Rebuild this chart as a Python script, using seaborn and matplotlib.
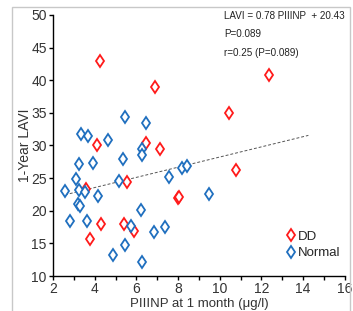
import numpy as np
import pandas as pd
import seaborn as sns
import matplotlib.pyplot as plt
from matplotlib.patches import Rectangle

# values
dd_x = [4.25, 6.9, 4.1, 6.45, 7.15, 12.35, 10.45, 3.57, 4.32, 3.77, 5.56, 5.42, 5.9, 7.98, 8.04, 10.76]
dd_y = [43.0, 39.0, 30.0, 30.4, 29.5, 40.8, 35.0, 23.3, 18.0, 15.7, 24.4, 18.0, 16.9, 21.9, 22.1, 26.2]
normal_x = [3.34, 3.69, 4.62, 5.44, 6.45, 6.28, 6.25, 5.34, 2.57, 3.12, 3.25, 3.92, 3.27, 3.55, 4.18, 3.22,
            3.29, 2.84, 3.61, 5.17, 6.21, 5.76, 5.47, 4.88, 6.26, 6.84, 7.35, 7.57, 8.2, 8.41, 9.49]
normal_y = [31.8, 31.4, 30.8, 34.4, 33.5, 29.4, 28.6, 28.0, 23.0, 24.8, 27.1, 27.3, 23.2, 22.9, 22.3, 21.0,
            20.7, 18.5, 18.5, 24.5, 20.1, 17.6, 14.8, 13.2, 12.1, 16.7, 17.5, 25.1, 26.5, 26.9, 22.5]

slope, intercept = 0.78, 20.43
fit_x = [2.58, 14.25]

x_ticks = [2, 4, 6, 8, 10, 12, 14, 16]
y_ticks = [10, 15, 20, 25, 30, 35, 40, 45, 50]

df = pd.DataFrame({
    'x': dd_x + normal_x,
    'y': dd_y + normal_y,
    'group': ['DD'] * len(dd_x) + ['Normal'] * len(normal_x),
})
fit = pd.DataFrame({'x': fit_x, 'y': [slope * v + intercept for v in fit_x]})

sns.set_style('white')
plt.rcParams['font.family'] = ['Liberation Sans', 'DejaVu Sans']

fig = plt.figure(figsize=(3.53, 3.11), dpi=100)
ax = fig.add_axes([0.150, 0.1125, 0.827, 0.8395])

# light grey chart frame
fig.patches.append(Rectangle((12 / 353, -0.1), 338 / 353, 1.1 - 7 / 311, transform=fig.transFigure,
                             fill=False, edgecolor='#c8c8c8', linewidth=1.0))

sns.lineplot(data=fit, x='x', y='y', ax=ax, color='#555555', linestyle=(0, (3, 2)), linewidth=0.7)
palette = {'DD': '#ff1a1a', 'Normal': '#1f6fbf'}
for g in ['DD', 'Normal']:
    sub = df[df.group == g]
    ax.plot(sub.x, sub.y, linestyle='none', marker='d', markersize=6.5, markerfacecolor='white',
            markeredgecolor=palette[g], markeredgewidth=1.3, label=g)

ax.set_xlim(2, 16)
ax.set_ylim(10, 50)
ax.set_xticks(x_ticks)
ax.set_xticks(np.arange(2, 17, 1), minor=True)
ax.set_yticks(y_ticks)
for s in ['top', 'right']:
    ax.spines[s].set_visible(False)
for s in ['left', 'bottom']:
    ax.spines[s].set_color('black')
    ax.spines[s].set_linewidth(1.0)
ax.tick_params(axis='both', which='both', direction='out', length=3, width=1.0, color='black',
               labelsize=10, labelcolor='#333333', bottom=True, left=True, pad=1.5)
ax.tick_params(axis='x', which='minor', length=3)

ax.set_xlabel('PIIINP at 1 month (\u03bcg/l)', fontsize=9.5, color='#333333', labelpad=1)
ax.set_ylabel('1-Year LAVI', fontsize=10, color='#333333', labelpad=-1)

ann = dict(transform=fig.transFigure, fontsize=7.1, color='#222222', va='center', ha='left')
ax.text(224 / 353, 1 - 16 / 311, 'LAVI = 0.78 PIIINP  + 20.43', **ann)
ax.text(224 / 353, 1 - 34 / 311, 'P=0.089', **ann)
ax.text(224 / 353, 1 - 53 / 311, 'r=0.25 (P=0.089)', **ann)

ax.legend(loc='upper left', bbox_to_anchor=(0.775, 0.195), frameon=False, fontsize=9.5,
          handletextpad=0.0, handlelength=1.0, labelspacing=0.35, borderaxespad=0)

fig.savefig('out.png', dpi=100)
